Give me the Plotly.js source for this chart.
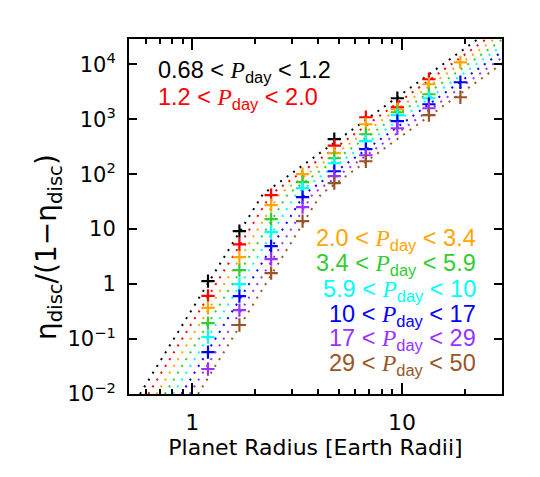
<!DOCTYPE html>
<html><head><meta charset="utf-8">
<script src="https://cdn.plot.ly/plotly-3.0.1.min.js"></script>
<style>html,body{margin:0;padding:0;background:#fff}#chart{width:540px;height:477px}</style>
</head><body><div id="chart"></div>
<script>
// ---- data ----
const periodLow  = ['0.68', '1.2', '2.0', '3.4', '5.9', '10', '17', '29'];
const periodHigh = ['1.2', '2.0', '3.4', '5.9', '10', '17', '29', '50'];
const seriesColors = ['#000000', '#FF0000', '#FFA500', '#33CC33', '#00FFFF', '#0000FF', '#9933FF', '#99552A'];

// planet-radius bin centres (Earth radii)
const radiusBins = [1.19, 1.68, 2.38, 3.36, 4.76, 6.73, 9.51, 13.45, 19.0];

// eta_disc/(1-eta_disc) measured in each radius bin (null = no point)
const eta_P068_12 = [1.13, 9.2, null, null, 433, null, 2410, null, null];
const eta_P12_20  = [0.61, 5.3, 41.5, null, 330, 1087, 1652, 5335, null];
const eta_P20_34  = [0.37, 3.1, 27.3, 100, 241, 811, 1520, 4330, 10870];
const eta_P34_59  = [0.195, 1.8, 15.2, 71.6, 195, 533, 1340, 2848, null];
const eta_P59_10  = [0.109, 1.0, 8.8, 55.6, 158, 398, 1183, 2410, null];
const eta_P10_17  = [0.058, 0.605, 4.9, 38.2, 113, 285, 920, 1875, 4710];
const eta_P17_29  = [0.0285, 0.336, 2.85, 25.1, 92, 221, 686, 1585, null];
const eta_P29_50  = [null, 0.18, 1.58, 14.0, 68.6, 172, null, 1183, 2512];

// model curves (dotted): radius and value at start, knee and end
const modelR_P068_12 = [0.564, 2.173, 30];
const modelR_P12_20  = [0.618, 2.380, 30];
const modelR_P20_34  = [0.677, 2.607, 30];
const modelR_P34_59  = [0.741, 2.855, 30];
const modelR_P59_10  = [0.812, 3.128, 30];
const modelR_P10_17  = [0.889, 3.425, 30];
const modelR_P17_29  = [0.974, 3.752, 30];
const modelR_P29_50  = [1.067, 4.110, 30];
const modelV_P068_12 = [0.01, 43.3, 59560];
const modelV_P12_20  = [0.01, 43.3, 46240];
const modelV_P20_34  = [0.01, 43.3, 35980];
const modelV_P34_59  = [0.01, 43.3, 28000];
const modelV_P59_10  = [0.01, 43.3, 21780];
const modelV_P10_17  = [0.01, 43.3, 16950];
const modelV_P17_29  = [0.01, 43.3, 13180];
const modelV_P29_50  = [0.01, 43.3, 10260];

const yTickVals = [0.01, 0.1, 1, 10, 100, 1000, 10000];
const yTickText = ['10<sup>\u22122</sup>', '10<sup>\u22121</sup>', '1', '10', '10<sup>2</sup>', '10<sup>3</sup>', '10<sup>4</sup>'];
const xTickVals = [1, 10];
const xTickText = ['1', '10'];
const xMinorVals = [0.5, 0.6, 0.7, 0.8, 0.9, 2, 3, 4, 5, 6, 7, 8, 9, 20, 30];

// ---- build ----
const measured = [eta_P068_12, eta_P12_20, eta_P20_34, eta_P34_59, eta_P59_10, eta_P10_17, eta_P17_29, eta_P29_50];
const modelR = [modelR_P068_12, modelR_P12_20, modelR_P20_34, modelR_P34_59, modelR_P59_10, modelR_P10_17, modelR_P17_29, modelR_P29_50];
const modelV = [modelV_P068_12, modelV_P12_20, modelV_P20_34, modelV_P34_59, modelV_P59_10, modelV_P10_17, modelV_P17_29, modelV_P29_50];

const traces = [];
for (let i = 0; i < measured.length; i++) {
  traces.push({
    type: 'scatter', mode: 'lines', x: modelR[i], y: modelV[i],
    line: {color: seriesColors[i], width: 2, dash: '2px,6px'},
    hoverinfo: 'skip', showlegend: false
  });
}
for (let i = 0; i < measured.length; i++) {
  traces.push({
    type: 'scatter', mode: 'markers', x: radiusBins, y: measured[i],
    marker: {symbol: 'cross-thin-open', size: 9.5, color: seriesColors[i], line: {color: seriesColors[i], width: 2.2}},
    name: periodLow[i] + ' < P_day < ' + periodHigh[i], showlegend: false
  });
}

const L = 129, T = 39, W = 373, H = 355;
const px = x => (x - L) / W;
const py = y => (T + H - y) / H;
const P = '<span style="font-family:Liberation Serif;font-style:italic">P</span><sub>day</sub>';
const labelText = i => periodLow[i] + ' &lt; ' + P + ' &lt; ' + periodHigh[i];
const labelFont = c => ({family: 'Liberation Sans, Arial, sans-serif', size: 23.5, color: c});

const annotations = [];
const topY = [68, 95];
for (let i = 0; i < 2; i++) {
  annotations.push({xref: 'paper', yref: 'paper', x: px(157), y: py(topY[i] + 3), xanchor: 'left', yanchor: 'middle',
    text: labelText(i), showarrow: false, font: labelFont(seriesColors[i]), borderpad: 0});
}
const rightY = [236, 261, 287, 312, 336, 361];
for (let i = 2; i < 8; i++) {
  annotations.push({xref: 'paper', yref: 'paper', x: px(477), y: py(rightY[i - 2] + 3), xanchor: 'right', yanchor: 'middle',
    text: labelText(i), showarrow: false, font: labelFont(seriesColors[i]), borderpad: 0});
}
annotations.push({xref: 'paper', yref: 'paper', x: px(48), y: py(247), xanchor: 'center', yanchor: 'middle', textangle: -90,
  text: '\u03b7<sub>disc</sub>/(1\u2212\u03b7<sub>disc</sub>)', showarrow: false,
  font: {family: 'DejaVu Sans', size: 28, color: '#000'}});

const layout = {
  width: 540, height: 477,
  margin: {l: L, r: 540 - L - W, t: T, b: 477 - T - H, pad: 0},
  paper_bgcolor: '#fff', plot_bgcolor: '#fff', showlegend: false,
  font: {family: 'DejaVu Sans', size: 22, color: '#000'},
  xaxis: {
    type: 'log', range: [Math.log10(0.5), Math.log10(30)],
    tickmode: 'array', tickvals: xTickVals, ticktext: xTickText,
    ticks: 'inside', ticklen: 11, tickwidth: 2, tickcolor: '#000',
    minor: {tickmode: 'array', tickvals: xMinorVals, ticks: 'inside', ticklen: 5, tickwidth: 2, tickcolor: '#000', showgrid: false},
    showline: true, linewidth: 2, linecolor: '#000', mirror: 'ticks',
    showgrid: false, zeroline: false, ticklabelstandoff: 8,
    tickfont: {family: 'DejaVu Sans', size: 22, color: '#000'},
    title: {text: 'Planet Radius [Earth Radii]', font: {family: 'DejaVu Sans', size: 22, color: '#000'}, standoff: 4}
  },
  yaxis: {
    type: 'log', range: [-2, 4.46],
    tickmode: 'array', tickvals: yTickVals, ticktext: yTickText,
    ticks: 'inside', ticklen: 8, tickwidth: 2, tickcolor: '#000',
    showline: true, linewidth: 2, linecolor: '#000', mirror: 'ticks',
    showgrid: false, zeroline: false, ticklabelstandoff: 7,
    tickfont: {family: 'DejaVu Sans', size: 21, color: '#000'}
  },
  annotations: annotations
};

Plotly.newPlot('chart', traces, layout, {displayModeBar: false, staticPlot: true});
</script>
</body></html>
